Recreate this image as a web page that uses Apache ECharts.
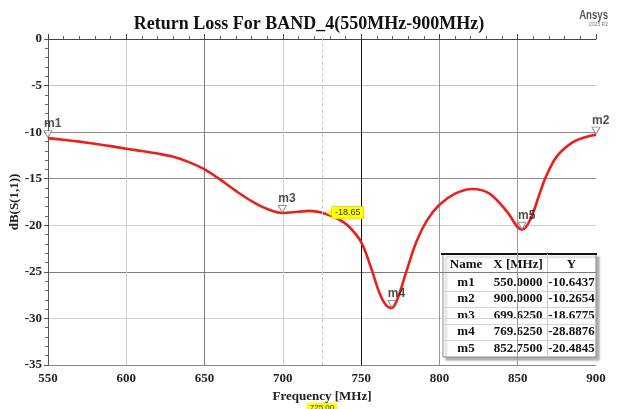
<!DOCTYPE html>
<html>
<head>
<meta charset="utf-8">
<script src="https://cdn.jsdelivr.net/npm/echarts@6/dist/echarts.min.js"></script>
<style>
  html, body { margin: 0; padding: 0; background: #fff; }
  #chart { width: 618px; height: 409px; }
</style>
</head>
<body>
<div id="chart"></div>
<script>
// S11 sweep, 550–900 MHz
const freqMHz = [550, 560, 570, 580, 590, 600, 610, 620, 630, 640, 650, 660, 670, 680, 690,
  699.625, 710, 717, 725, 735, 742, 750, 756, 762, 766, 769.625, 773, 779, 785, 792,
  800, 810, 821, 832, 843, 852.75, 858, 864, 868, 875, 885, 893, 900];
const returnLossDb = [-10.6437, -10.82, -11.02, -11.25, -11.5, -11.78, -12.02, -12.3, -12.65, -13.22, -14.0, -15.1, -16.3, -17.4, -18.25,
  -18.6775, -18.55, -18.45, -18.65, -19.3, -20.1, -21.8, -24.4, -27.4, -28.6, -28.8876, -28.0, -24.9, -21.9, -19.5,
  -17.8, -16.6, -16.1, -16.6, -18.5, -20.4845, -19.4, -16.6, -14.8, -12.6, -11.1, -10.55, -10.2654];

// markers and their readouts
const markerNames = ['m1', 'm2', 'm3', 'm4', 'm5'];
const markerFreq = [550, 900, 699.625, 769.625, 852.75];
const markerDb = [-10.6437, -10.2654, -18.6775, -28.8876, -20.4845];

// cursor
const cursorFreq = 725;
const cursorDb = -18.65;

const tableHeader = ['Name', 'X [MHz]', 'Y'];

const serifBold = { fontFamily: '"Liberation Serif", "Times New Roman", serif', fontWeight: 'bold' };

const chart = echarts.init(document.getElementById('chart'), null, { renderer: 'canvas' });

// marker readout table
const colEdges = [443, 489, 547, 596];
const headerTop = 254, headerBottom = 274, rowH = 16.6;
const tableBottom = headerBottom + rowH * markerNames.length;
const tableChildren = [];
tableChildren.push({
  type: 'rect',
  shape: { x: colEdges[0], y: headerTop, width: colEdges[3] - colEdges[0], height: tableBottom - headerTop },
  style: { fill: '#fff', stroke: '#8a8a8a', lineWidth: 1, shadowColor: 'rgba(0,0,0,0.3)', shadowOffsetX: 3, shadowOffsetY: 3, shadowBlur: 2 }
});
tableChildren.push({
  type: 'line',
  shape: { x1: colEdges[0] - 2, y1: headerTop, x2: colEdges[3] + 1, y2: headerTop },
  style: { stroke: '#111', lineWidth: 2 }
});
for (let r = 1; r < markerNames.length; r++) {
  const y = Math.round(headerBottom + rowH * r) + 0.5;
  tableChildren.push({
    type: 'line',
    shape: { x1: colEdges[0], y1: y, x2: colEdges[3], y2: y },
    style: { stroke: '#d4d4d4', lineWidth: 1 }
  });
}
tableChildren.push({
  type: 'line',
  shape: { x1: colEdges[2] + 0.5, y1: headerTop, x2: colEdges[2] + 0.5, y2: tableBottom },
  style: { stroke: '#c8c8c8', lineWidth: 1 }
});
function cellText(text, col, cy) {
  return {
    type: 'text',
    style: {
      text: text, x: (colEdges[col] + colEdges[col + 1]) / 2, y: cy,
      textAlign: 'center', textVerticalAlign: 'middle',
      font: 'bold 13px "Liberation Serif", "Times New Roman", serif', fill: '#111'
    }
  };
}
tableHeader.forEach((h, c) => tableChildren.push(cellText(h, c, (headerTop + headerBottom) / 2 + 1)));
markerNames.forEach((name, r) => {
  const cy = headerBottom + rowH * r + rowH / 2;
  tableChildren.push(cellText(name, 0, cy));
  tableChildren.push(cellText(markerFreq[r].toFixed(4), 1, cy));
  tableChildren.push(cellText(markerDb[r].toFixed(4), 2, cy));
});

const option = {
  backgroundColor: '#fff',
  animation: false,
  title: {
    text: 'Return Loss For BAND_4(550MHz-900MHz)',
    left: 'center',
    top: 10,
    textStyle: Object.assign({ fontSize: 18, color: '#111' }, serifBold)
  },
  grid: { left: 48, right: 22, top: 39, bottom: 44, containLabel: false, outerBoundsMode: 'none' },
  xAxis: {
    type: 'value',
    min: 550, max: 900, interval: 50,
    name: 'Frequency [MHz]',
    nameLocation: 'middle',
    nameGap: 23,
    nameTextStyle: Object.assign({ fontSize: 13, color: '#222' }, serifBold),
    axisLine: { show: true, lineStyle: { color: '#444', width: 1 } },
    axisTick: { show: true, inside: true, length: 5, lineStyle: { color: '#444' } },
    minorTick: { show: true, splitNumber: 5, length: 3, lineStyle: { color: '#666' } },
    axisLabel: Object.assign({ fontSize: 13, color: '#222', margin: 7 }, serifBold),
    splitLine: {
      show: true, showMaxLine: false,
      lineStyle: { width: 1, color: ['#888', '#d0d0d0', '#7c7c7c', '#d0d0d0', '#111', '#999', '#999', '#888'] }
    }
  },
  yAxis: {
    type: 'value',
    min: -35, max: 0, interval: 5,
    name: 'dB(S(1,1))',
    nameLocation: 'middle',
    nameGap: 27,
    nameMoveOverlap: false,
    nameTextStyle: Object.assign({ fontSize: 13, color: '#222' }, serifBold),
    axisLine: { show: true, lineStyle: { color: '#555', width: 1 } },
    axisTick: { show: true, length: 4, lineStyle: { color: '#555' } },
    minorTick: { show: true, splitNumber: 5, length: 3, lineStyle: { color: '#666' } },
    axisLabel: Object.assign({ fontSize: 13, color: '#222', margin: 6 }, serifBold),
    splitLine: {
      show: true,
      lineStyle: { width: 1, color: ['#888', '#d0d0d0', '#7c7c7c', '#d0d0d0', '#8c8c8c', '#8c8c8c', '#c4c4c4', '#999'] }
    }
  },
  graphic: [
    {
      type: 'text',
      right: 10, top: 10,
      style: { text: 'Ansys', font: 'bold 12px "Liberation Sans", Arial, sans-serif', fill: '#555' },
      scaleX: 0.8
    },
    {
      type: 'text',
      right: 10, top: 22,
      style: { text: '2025 R2', font: '5px "Liberation Sans", Arial, sans-serif', fill: '#777' }
    },
    { type: 'group', children: tableChildren, z: 100 }
  ],
  series: [
    {
      name: 'dB(S(1,1))',
      type: 'line',
      data: freqMHz.map((f, i) => [f, returnLossDb[i]]),
      smooth: 0.35,
      showSymbol: false,
      lineStyle: { color: '#e8211f', width: 2.6 },
      z: 3,
      markLine: {
        silent: true,
        symbol: ['none', 'none'],
        lineStyle: { type: 'dashed', color: '#cfcfcf', width: 1 },
        label: {
          show: true, position: 'start', distance: 38,
          formatter: cursorFreq.toFixed(2),
          backgroundColor: '#ffff00', color: '#333', fontSize: 8, padding: [1, 3],
          fontFamily: '"Liberation Sans", Arial, sans-serif'
        },
        data: [{ xAxis: cursorFreq }]
      },
      markPoint: {
        silent: true,
        symbol: 'triangle',
        symbolSize: [7, 6],
        symbolRotate: 90,
        symbolOffset: [7, 0],
        itemStyle: { color: '#ffff00' },
        label: {
          show: true, position: 'right', distance: 0,
          formatter: cursorDb.toFixed(2),
          backgroundColor: '#ffff00', borderColor: '#c8b400', borderWidth: 0.5,
          color: '#333', fontSize: 9, padding: [2, 3, 1, 3],
          fontFamily: '"Liberation Sans", Arial, sans-serif'
        },
        data: [{ coord: [cursorFreq, cursorDb] }]
      }
    },
    {
      name: 'markers',
      type: 'scatter',
      data: markerFreq.map((f, i) => [f, markerDb[i]]),
      symbol: 'triangle',
      symbolRotate: 180,
      symbolSize: [8, 7],
      symbolOffset: [0, -4],
      itemStyle: { color: '#fff', borderColor: '#777', borderWidth: 1 },
      label: {
        show: true, position: 'top', distance: 0, align: 'left', offset: [-4, 0],
        formatter: (p) => markerNames[p.dataIndex],
        fontFamily: '"Liberation Sans", Arial, sans-serif', fontWeight: 'bold', fontSize: 12, color: '#222'
      },
      z: 5
    }
  ]
};

chart.setOption(option);
</script>
</body>
</html>
